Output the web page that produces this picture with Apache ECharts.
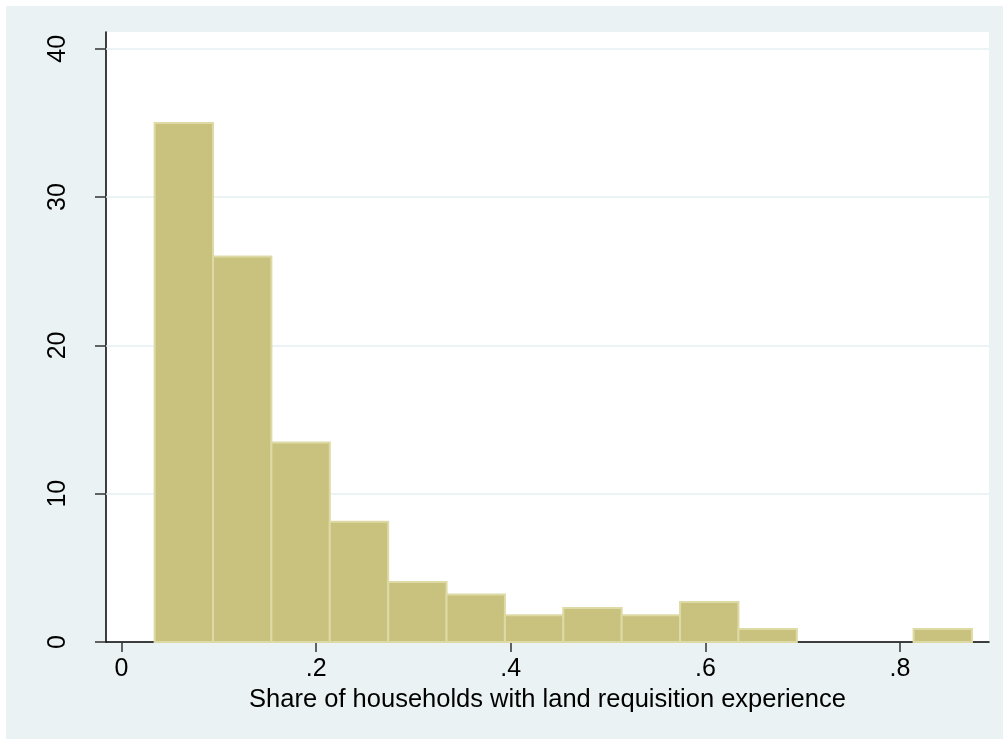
<!DOCTYPE html>
<html>
<head>
<meta charset="utf-8">
<script src="https://cdn.jsdelivr.net/npm/echarts@6/dist/echarts.min.js"></script>
<style>
html,body{margin:0;padding:0;background:#ffffff;}
#chart{width:1003px;height:739px;}
</style>
</head>
<body>
<div id="chart"></div>
<script>
// Histogram bins (share of households) and percent heights
const binLeft  = [0.034, 0.094, 0.154, 0.214, 0.274, 0.334, 0.394, 0.454, 0.514, 0.574, 0.634, 0.694, 0.754, 0.814];
const binRight = [0.094, 0.154, 0.214, 0.274, 0.334, 0.394, 0.454, 0.514, 0.574, 0.634, 0.694, 0.754, 0.814, 0.874];
const percent  = [35.0, 26.0, 13.45, 8.1, 4.05, 3.2, 1.8, 2.3, 1.8, 2.7, 0.88, 0, 0, 0.88];
const xTicks = [0, 0.2, 0.4, 0.6, 0.8];
const xTickLabels = ['0', '.2', '.4', '.6', '.8'];
const yTicks = [0, 10, 20, 30, 40];
const xTitle = 'Share of households with land requisition experience';

const FONT = '"Liberation Sans", Arial, Helvetica, sans-serif';
const chart = echarts.init(document.getElementById('chart'));

const histData = [];
for (let i = 0; i < percent.length; i++) {
  if (percent[i] > 0) histData.push([binLeft[i], binRight[i], percent[i]]);
}

chart.setOption({
  animation: false,
  backgroundColor: 'transparent',
  graphic: [{
    type: 'rect', z: -10, silent: true,
    shape: {x: 6, y: 6, width: 997, height: 733},
    style: {fill: '#eaf2f3'}
  }],
  grid: {
    left: 106, right: 14, top: 32, bottom: 97,
    show: true, backgroundColor: '#ffffff', borderWidth: 0
  },
  xAxis: {
    type: 'value', min: -0.016, max: 0.8915,
    name: xTitle, nameLocation: 'middle', nameGap: 41,
    nameTextStyle: {color: '#000', fontSize: 25.5, fontFamily: FONT},
    axisLine: {show: true, onZero: false, lineStyle: {color: '#000', width: 1.5}},
    axisTick: {show: true, length: 10, customValues: xTicks, lineStyle: {color: '#333', width: 1.5}},
    axisLabel: {
      customValues: xTicks, margin: 15, color: '#000', fontSize: 25, fontFamily: FONT,
      formatter: function (v) { const i = xTicks.indexOf(v); return i >= 0 ? xTickLabels[i] : ''; }
    },
    splitLine: {show: false}
  },
  yAxis: {
    type: 'value', min: 0, max: 41.13,
    axisLine: {show: true, onZero: false, lineStyle: {color: '#000', width: 1.5}},
    axisTick: {show: true, length: 11, customValues: yTicks, lineStyle: {color: '#333', width: 1.5}},
    axisLabel: {
      customValues: yTicks, rotate: 90, margin: 35, color: '#000', fontSize: 25, fontFamily: FONT
    },
    splitLine: {show: false}
  },
  series: [
    {
      type: 'line', data: [], silent: true, z: 1,
      markLine: {
        silent: true, symbol: 'none', label: {show: false},
        lineStyle: {color: '#e6eff1', width: 1.5, type: 'solid'},
        data: yTicks.filter(v => v > 0).map(v => ({yAxis: v}))
      }
    },
    {
      type: 'custom', z: 5,
      renderItem: function (params, api) {
        const p0 = api.coord([api.value(0), api.value(2)]);
        const p1 = api.coord([api.value(1), 0]);
        return {
          type: 'rect',
          shape: {x: p0[0], y: p0[1], width: p1[0] - p0[0], height: p1[1] - p0[1]},
          style: {fill: '#c9c27f', stroke: '#dedaa5', lineWidth: 2}
        };
      },
      encode: {x: [0, 1], y: 2},
      data: histData
    }
  ]
});
</script>
</body>
</html>
